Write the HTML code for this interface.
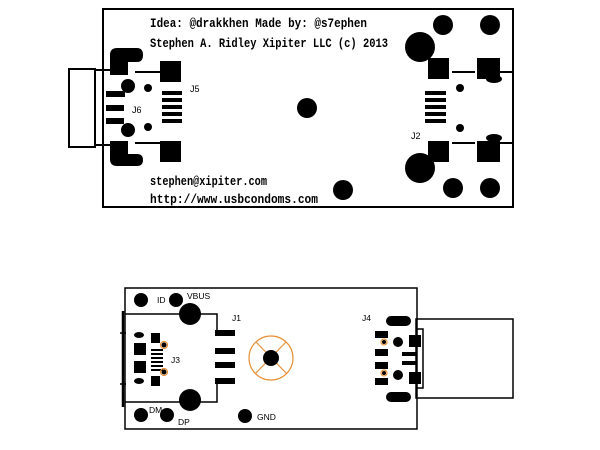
<!DOCTYPE html>
<html><head><meta charset="utf-8"><style>html,body{margin:0;padding:0;background:#fff}svg{display:block}</style></head><body>
<svg width="600" height="450" viewBox="0 0 600 450" xmlns="http://www.w3.org/2000/svg" font-family="Liberation Mono, monospace">
<rect x="0" y="0" width="600" height="450" fill="#fff"/>
<rect x="103" y="9" width="410" height="198" fill="none" stroke="#000" stroke-width="2"/>
<g font-size="12.5" fill="#000" font-weight="bold">
<text x="150" y="27" textLength="217" lengthAdjust="spacingAndGlyphs">Idea: @drakkhen Made by: @s7ephen</text>
<text x="150" y="47" textLength="238" lengthAdjust="spacingAndGlyphs">Stephen A. Ridley Xipiter LLC (c) 2013</text>
<text x="150" y="185" textLength="117" lengthAdjust="spacingAndGlyphs">stephen@xipiter.com</text>
<text x="150" y="203" textLength="168" lengthAdjust="spacingAndGlyphs">http://www.usbcondoms.com</text>
</g>
<g font-family="Liberation Sans, sans-serif" font-size="9" fill="#000">
<text x="190" y="92">J5</text><text x="132" y="113">J6</text><text x="411" y="139">J2</text>
</g>
<g stroke="#000" stroke-width="2" fill="none">
<rect x="69" y="69" width="26" height="78"/>
<line x1="95" y1="70" x2="120" y2="70"/><line x1="95" y1="145" x2="120" y2="145"/>
<line x1="135" y1="72" x2="160" y2="72"/><line x1="135" y1="143" x2="160" y2="143"/>
</g>
<g fill="#000">
<path d="M110 55 Q110 48 117 48 L137 48 Q143 48 143 55 Q143 62 137 62 L128 62 L128 75 L110 75 Z"/>
<path d="M110 141 L128 141 L128 154 L137 154 Q143 154 143 160 Q143 166 137 166 L117 166 Q110 166 110 159 Z"/>
<rect x="160" y="61" width="21" height="21"/><rect x="160" y="141" width="21" height="21"/>
<circle cx="128" cy="86" r="7"/><circle cx="148" cy="88" r="4"/>
<circle cx="128" cy="130" r="7"/><circle cx="148" cy="127" r="4"/>
<rect x="106" y="91" width="19" height="6"/><rect x="106" y="105" width="18" height="6"/><rect x="106" y="118" width="18" height="6"/>
<rect x="162" y="91" width="20" height="4"/><rect x="162" y="98" width="20" height="4"/><rect x="162" y="105" width="20" height="4"/><rect x="162" y="112" width="20" height="4"/><rect x="162" y="119" width="20" height="4"/>
<circle cx="307" cy="108" r="10"/><circle cx="343" cy="190" r="10"/>
<circle cx="443" cy="25" r="10"/><circle cx="490" cy="25" r="10"/>
<circle cx="420" cy="47" r="15"/><circle cx="420" cy="168" r="15"/>
<circle cx="453" cy="188" r="10"/><circle cx="490" cy="188" r="10"/>
<rect x="428" y="58" width="21" height="21"/><rect x="477" y="58" width="23" height="21"/>
<rect x="428" y="141" width="21" height="21"/><rect x="477" y="141" width="23" height="21"/>
<ellipse cx="494" cy="79" rx="8" ry="4"/><ellipse cx="494" cy="138" rx="8" ry="4"/>
<circle cx="460" cy="88" r="4"/><circle cx="460" cy="128" r="4"/>
<rect x="425" y="91" width="21" height="4"/><rect x="425" y="98" width="21" height="4"/><rect x="425" y="105" width="21" height="4"/><rect x="425" y="112" width="21" height="4"/><rect x="425" y="119" width="21" height="4"/>
</g>
<g stroke="#000" stroke-width="2">
<line x1="452" y1="72" x2="475" y2="72"/><line x1="500" y1="72" x2="513" y2="72"/>
<line x1="452" y1="143" x2="475" y2="143"/><line x1="500" y1="143" x2="513" y2="143"/>
</g>
<rect x="125" y="288" width="292" height="141" fill="none" stroke="#000" stroke-width="1.5"/>
<g stroke="#000" stroke-width="1.5" fill="none">
<line x1="123" y1="311" x2="123" y2="407" stroke-width="2.5"/>
<polyline points="125,314 217,314 217,330"/><polyline points="125,402 217,402 217,383"/>
<line x1="120" y1="333" x2="126" y2="333"/><line x1="120" y1="384" x2="126" y2="384"/>
<rect x="416" y="319" width="97" height="79"/>
<polyline points="416,329 423,329 423,388 416,388"/>
</g>
<g fill="#000">
<circle cx="141" cy="300" r="7"/><circle cx="176" cy="300" r="7"/>
<circle cx="190" cy="314" r="11"/><circle cx="190" cy="400" r="11"/>
<circle cx="141" cy="415" r="7"/><circle cx="167" cy="415" r="7"/><circle cx="245" cy="416" r="7"/>
<rect x="215" y="330" width="20" height="6"/><rect x="215" y="348" width="20" height="6"/><rect x="215" y="362" width="20" height="6"/><rect x="215" y="378" width="20" height="6"/>
<ellipse cx="139" cy="335" rx="5" ry="3"/><ellipse cx="139" cy="381" rx="5" ry="3"/>
<rect x="134" y="343" width="12" height="12"/><rect x="134" y="361" width="12" height="12"/>
<rect x="151" y="333" width="9" height="10"/><rect x="151" y="376" width="9" height="10"/>
<rect x="151" y="349" width="12" height="2"/><rect x="151" y="353" width="12" height="2"/><rect x="151" y="357" width="12" height="2"/><rect x="151" y="361" width="12" height="2"/><rect x="151" y="365" width="12" height="2"/><rect x="151" y="369" width="12" height="2"/>
<rect x="386" y="316" width="25" height="10" rx="5"/><rect x="386" y="392" width="25" height="10" rx="5"/>
<rect x="375" y="331" width="13" height="7"/><rect x="375" y="349" width="13" height="7"/><rect x="375" y="362" width="13" height="7"/><rect x="375" y="378" width="13" height="7"/>
<circle cx="398" cy="342" r="5"/><circle cx="398" cy="375" r="5"/>
<rect x="409" y="335" width="12" height="12"/><rect x="409" y="372" width="12" height="12"/>
<rect x="402" y="352" width="14" height="4"/><rect x="402" y="361" width="14" height="4"/>
</g>
<g fill="none" stroke="#e69138" stroke-width="1.2">
<circle cx="271" cy="358" r="22"/>
<line x1="256" y1="342" x2="287" y2="374"/><line x1="286" y1="342" x2="255" y2="374"/>
<circle cx="164" cy="345" r="3.5"/><circle cx="164" cy="372" r="3.5"/>
<circle cx="384" cy="342" r="3"/><circle cx="384" cy="373" r="3"/>
</g>
<circle cx="271" cy="358" r="8" fill="#000"/>
<g fill="#000"><circle cx="164" cy="345" r="2.5"/><circle cx="164" cy="372" r="2.5"/><circle cx="384" cy="342" r="2"/><circle cx="384" cy="373" r="2"/></g>
<g font-family="Liberation Sans, sans-serif" font-size="8.5" fill="#000">
<text x="157" y="303">ID</text><text x="187" y="299">VBUS</text><text x="232" y="321">J1</text>
<text x="171" y="363">J3</text><text x="362" y="321">J4</text>
<text x="149" y="413">DM</text><text x="178" y="425">DP</text><text x="257" y="420">GND</text>
</g>
</svg>
</body></html>
